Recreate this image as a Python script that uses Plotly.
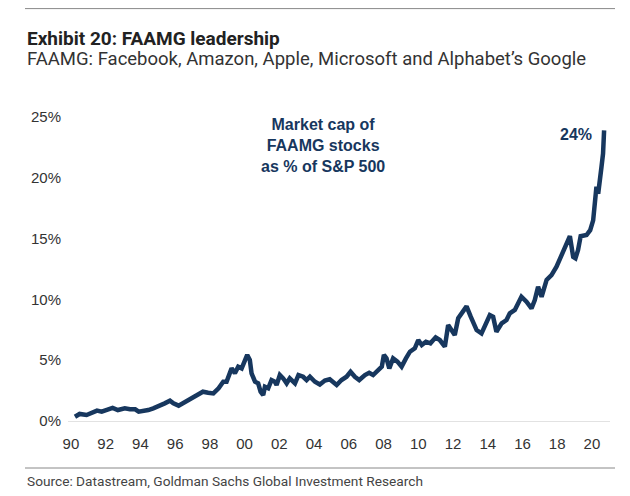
import plotly.graph_objects as go

# ---- data ----
years = [1990.23, 1990.5, 1990.9, 1991.2, 1991.5, 1991.77, 1992.05, 1992.4, 1992.7, 1993.1,
         1993.4, 1993.7, 1993.9, 1994.2, 1994.45, 1994.74, 1995.0, 1995.4, 1995.7, 1995.9,
         1996.2, 1996.5, 1996.75, 1997.0, 1997.3, 1997.6, 1997.9, 1998.2, 1998.5, 1998.77,
         1998.96, 1999.25, 1999.44, 1999.63, 1999.83, 2000.0, 2000.15, 2000.3, 2000.4, 2000.6,
         2000.78, 2000.92, 2001.07, 2001.17, 2001.36, 2001.55, 2001.74, 2001.84, 2002.03, 2002.22,
         2002.42, 2002.6, 2002.9, 2003.1, 2003.37, 2003.57, 2003.76, 2004.05, 2004.33, 2004.62,
         2004.9, 2005.3, 2005.58, 2005.87, 2006.1, 2006.35, 2006.6, 2006.93, 2007.17, 2007.4,
         2007.7, 2007.9, 2008.02, 2008.17, 2008.33, 2008.55, 2008.8, 2009.04, 2009.29, 2009.52,
         2009.8, 2010.0, 2010.2, 2010.44, 2010.7, 2011.0, 2011.24, 2011.53, 2011.72, 2011.92,
         2012.1, 2012.3, 2012.5, 2012.78, 2013.02, 2013.36, 2013.64, 2013.83, 2014.12, 2014.31,
         2014.5, 2014.8, 2015.08, 2015.27, 2015.56, 2015.94, 2016.23, 2016.52, 2016.71, 2016.9,
         2017.1, 2017.39, 2017.67, 2017.96, 2018.25, 2018.54, 2018.73, 2018.92, 2019.05, 2019.2,
         2019.35, 2019.69, 2019.9, 2020.07, 2020.17, 2020.26, 2020.36, 2020.45, 2020.55, 2020.64,
         2020.7]
share_pct = [0.35, 0.58, 0.49, 0.68, 0.85, 0.77, 0.90, 1.07, 0.90, 1.04,
             0.96, 0.96, 0.77, 0.80, 0.90, 1.04, 1.18, 1.45, 1.67, 1.45,
             1.26, 1.50, 1.67, 1.86, 2.10, 2.41, 2.33, 2.27, 2.69, 3.23,
             3.23, 4.33, 3.92, 4.47, 4.33, 4.88, 5.43, 5.02, 3.92, 3.23,
             3.10, 2.41, 2.14, 2.82, 2.69, 3.37, 3.23, 2.96, 3.78, 3.51,
             3.10, 3.51, 3.10, 3.78, 3.64, 3.37, 3.64, 3.23, 3.00, 3.33,
             3.43, 2.96, 3.37, 3.64, 4.05, 3.64, 3.37, 3.78, 3.97, 3.78,
             4.19, 4.47, 5.43, 5.15, 4.33, 5.15, 4.88, 4.47, 5.15, 5.70,
             5.98, 6.66, 6.25, 6.52, 6.39, 6.88, 6.66, 6.11, 7.89, 7.48,
             7.07, 8.45, 8.90, 9.43, 8.58, 7.48, 7.21, 7.75, 8.72, 8.58,
             7.34, 8.03, 8.30, 8.86, 9.13, 10.22, 9.81, 9.27, 9.95, 11.04,
             10.22, 11.60, 12.00, 12.69, 13.65, 14.74, 15.20, 13.50, 13.38, 14.06,
             15.20, 15.30, 15.70, 16.50, 17.60, 19.27, 18.70, 20.10, 20.90, 22.00,
             23.90]

x_tick_vals = list(range(1990, 2021, 2))
x_tick_text = ["90", "92", "94", "96", "98", "00", "02", "04", "06", "08",
               "10", "12", "14", "16", "18", "20"]
y_tick_vals = [0, 5, 10, 15, 20, 25]
y_tick_text = ["0%", "5%", "10%", "15%", "20%", "25%"]

title_text = "Exhibit 20: FAAMG leadership"
subtitle_text = "FAAMG: Facebook, Amazon, Apple, Microsoft and Alphabet\u2019s Google"
source_text = "Source: Datastream, Goldman Sachs Global Investment Research"
series_label = "Market cap of<br>FAAMG stocks<br>as % of S&P 500"
end_label = "24%"

NAVY = "#17375e"
NARROW = "Roboto, Liberation Sans, sans-serif"
SANS = "Liberation Sans, Arial, sans-serif"

fig = go.Figure()
fig.add_trace(go.Scatter(x=years, y=share_pct, mode="lines",
                         line=dict(color=NAVY, width=4.5), hoverinfo="skip"))

# the page adds an 8px body margin; size the figure to fit the 630x496 window
OFF = 8
W, H = 630 - OFF, 496 - OFF
L, R, T, B = 68 - OFF, 20, 110 - OFF, 75
pw, ph = W - L - R, H - T - B

def px(xp):  # reference pixel x -> paper coordinate
    return (xp - OFF - L) / pw

def py(yp):  # reference pixel y -> paper coordinate
    return (H - B - (yp - OFF)) / ph

fig.update_layout(
    width=W, height=H,
    margin=dict(l=L, r=R, t=T, b=B),
    paper_bgcolor="white", plot_bgcolor="white",
    showlegend=False,
    xaxis=dict(range=[1989.83, 2021.04], tickvals=x_tick_vals, ticktext=x_tick_text,
               showgrid=False, zeroline=False, showline=True, linecolor="#e2e2e2",
               linewidth=1, ticks="", ticklabelstandoff=9,
               tickfont=dict(family=SANS, size=15, color="#333333")),
    yaxis=dict(range=[0, 25.58], tickvals=y_tick_vals, ticktext=y_tick_text,
               showgrid=False, zeroline=False, showline=False, ticks="",
               ticklabelstandoff=6,
               tickfont=dict(family=SANS, size=15, color="#333333")),
    annotations=[
        dict(xref="paper", yref="paper", x=px(25), y=py(38), xanchor="left", yanchor="middle",
             text="<b>" + title_text + "</b>", showarrow=False,
             font=dict(family=NARROW, size=19, color="#222222")),
        dict(xref="paper", yref="paper", x=px(25), y=py(59), xanchor="left", yanchor="middle",
             text=subtitle_text, showarrow=False,
             font=dict(family=NARROW, size=18.5, color="#333333")),
        dict(xref="paper", yref="paper", x=px(25), y=py(481), xanchor="left", yanchor="middle",
             text=source_text, showarrow=False,
             font=dict(family=NARROW, size=13.7, color="#444444")),
        dict(xref="x", yref="y", x=2004.5, y=22.7, xanchor="center", yanchor="middle",
             text="<b>" + series_label + "</b>", showarrow=False,
             font=dict(family=SANS, size=16, color=NAVY)),
        dict(xref="x", yref="y", x=2019.1, y=23.6, xanchor="center", yanchor="middle",
             text="<b>" + end_label + "</b>", showarrow=False,
             font=dict(family=SANS, size=16, color=NAVY)),
    ],
    shapes=[
        dict(type="line", xref="paper", yref="paper", x0=px(25), x1=px(615), y0=py(8.6), y1=py(8.6),
             line=dict(color="#888888", width=1)),
        dict(type="line", xref="paper", yref="paper", x0=px(25), x1=px(615), y0=py(468), y1=py(468),
             line=dict(color="#888888", width=1)),
    ],
)

fig.write_html("out.html")
